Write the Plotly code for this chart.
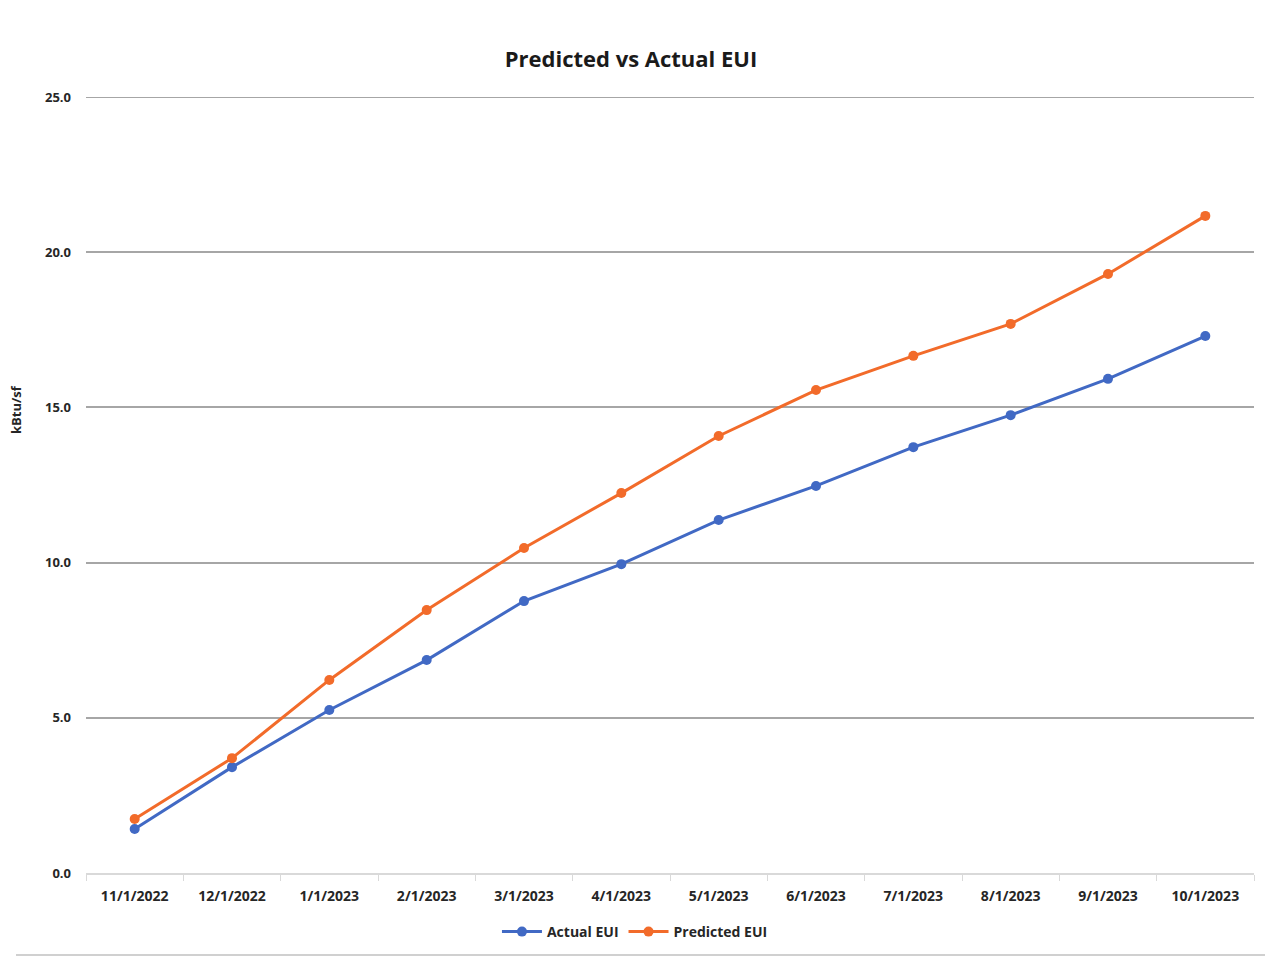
import plotly.graph_objects as go

months = ["11/1/2022", "12/1/2022", "1/1/2023", "2/1/2023", "3/1/2023", "4/1/2023",
          "5/1/2023", "6/1/2023", "7/1/2023", "8/1/2023", "9/1/2023", "10/1/2023"]
actual_eui = [1.42, 3.41, 5.25, 6.86, 8.76, 9.95, 11.37, 12.47, 13.72, 14.75, 15.92, 17.30]
predicted_eui = [1.74, 3.70, 6.22, 8.47, 10.47, 12.24, 14.08, 15.56, 16.66, 17.69, 19.30, 21.17]
y_ticks = [0, 5, 10, 15, 20, 25]

font_family = "Open Sans, Lato, sans-serif"

# page body adds an 8px offset, so margins are shifted to compensate
ML, MR, MT, MB = 78, 27, 89, 93
PW = 1273 - ML - MR
PH = 958 - MT - MB

fig = go.Figure()
fig.add_trace(go.Scatter(x=months, y=actual_eui, name="Actual EUI", mode="lines+markers",
                         line=dict(color="#4169c4", width=3),
                         marker=dict(color="#4169c4", size=10)))
fig.add_trace(go.Scatter(x=months, y=predicted_eui, name="Predicted EUI", mode="lines+markers",
                         line=dict(color="#f26b2a", width=3),
                         marker=dict(color="#f26b2a", size=10)))

fig.update_layout(
    width=1273, height=958,
    paper_bgcolor="white", plot_bgcolor="white",
    margin=dict(l=ML, r=MR, t=MT, b=MB),
    font=dict(family=font_family, color="#404040"),
    title=dict(text="<b>Predicted vs Actual EUI</b>", x=623 / 1273, xanchor="center",
               y=1 - 51 / 958, yanchor="middle",
               font=dict(size=22, color="#1a1a1a", family=font_family)),
    showlegend=True,
    legend=dict(orientation="h", x=0.47, xanchor="center", y=-(924 - 865) / PH, yanchor="middle",
                font=dict(size=14, color="#262626", weight="bold"), itemwidth=40),
)

fig.update_xaxes(
    type="category", range=[-0.5, 11.5],
    showline=True, linecolor="#d9d9d9", linewidth=2,
    showgrid=False,
    ticks="outside", tickson="boundaries", ticklen=6, tickcolor="#d9d9d9", tickwidth=1,
    tickfont=dict(size=14, color="#262626", weight="bold"),
    ticklabelstandoff=9,
)
fig.update_yaxes(
    range=[0, 25], tickvals=y_ticks, tickformat=".1f",
    showgrid=True, gridcolor="#a6a6a6", gridwidth=2,
    zeroline=False, showline=False,
    tickfont=dict(size=13, color="#262626", weight="bold"),
    ticklabelstandoff=14,
)

# top gridline at the end of the range
fig.add_shape(type="line", xref="paper", yref="y", x0=0, x1=1, y0=y_ticks[-1], y1=y_ticks[-1],
              line=dict(color="#a6a6a6", width=2), layer="below")

fig.add_annotation(text="<b>kBtu/sf</b>", textangle=-90, xref="paper", yref="paper",
                   x=-(ML - 8) / PW, xanchor="center",
                   y=(865 - 402) / PH, yanchor="middle", showarrow=False,
                   font=dict(size=13, color="#262626"))

# chart frame edge at the bottom
fig.add_shape(type="line", xref="paper", yref="paper",
              x0=-(ML - 8) / PW, x1=1 + MR / PW, y0=-82 / PH, y1=-82 / PH,
              line=dict(color="#d0d0d0", width=2))

fig.write_html("out.html")
